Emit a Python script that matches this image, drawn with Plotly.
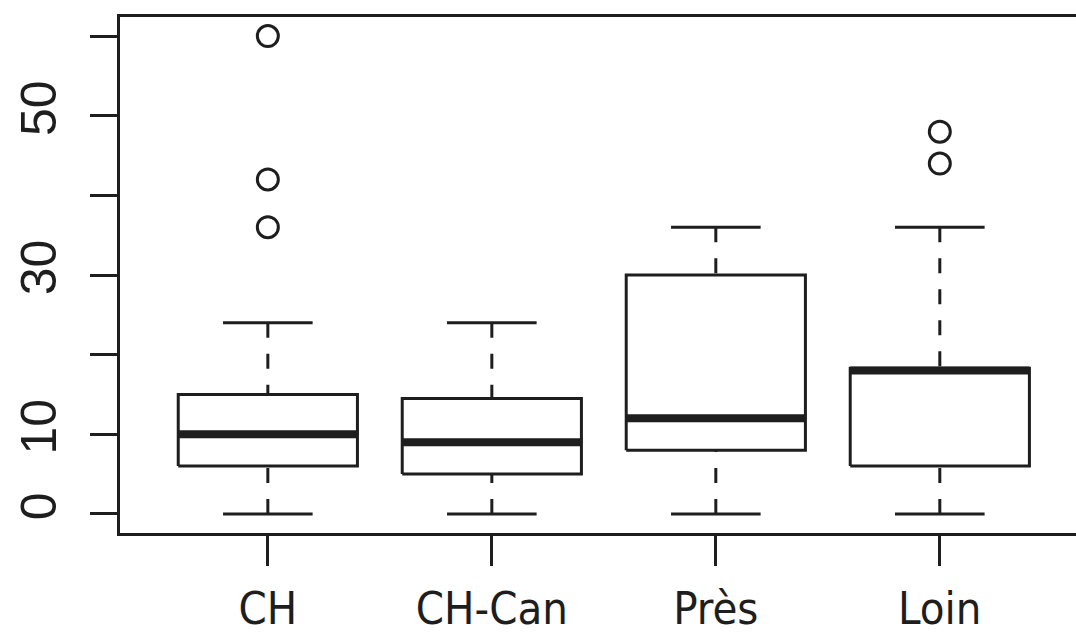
import plotly.graph_objects as go

categories = ["CH", "CH-Can", "Près", "Loin"]
lower_whisker = [0, 0, 0, 0]
q1 = [6, 5, 8, 6]
median = [10, 9, 12, 18]
q3 = [15, 14.5, 30, 18.3]
upper_whisker = [24, 24, 36, 36]
outlier_group = ["CH", "CH", "CH", "Loin", "Loin"]
outlier_values = [60, 42, 36, 48, 44]

y_tick_vals = [0, 10, 20, 30, 40, 50, 60]
y_tick_text = ["0", "10", "", "30", "", "50", ""]

INK = "#1e1e1e"
BOX_HALF = 0.4
CAP_HALF = 0.2

pos = {c: i + 1 for i, c in enumerate(categories)}

fig = go.Figure()

bx, by, mx, my, wx, wy, cx, cy = [], [], [], [], [], [], [], []
for c, lo, a, m, b, hi in zip(categories, lower_whisker, q1, median, q3, upper_whisker):
    x = pos[c]
    bx += [x - BOX_HALF, x + BOX_HALF, x + BOX_HALF, x - BOX_HALF, x - BOX_HALF, None]
    by += [a, a, b, b, a, None]
    mx += [x - BOX_HALF, x + BOX_HALF, None]
    my += [m, m, None]
    wx += [x, x, None, x, x, None]
    wy += [lo, a, None, hi, b, None]
    cx += [x - CAP_HALF, x + CAP_HALF, None, x - CAP_HALF, x + CAP_HALF, None]
    cy += [lo, lo, None, hi, hi, None]

fig.add_trace(go.Scatter(x=wx, y=wy, mode="lines",
                         line=dict(color=INK, width=3, dash="15px,16px"),
                         hoverinfo="skip", showlegend=False))
fig.add_trace(go.Scatter(x=cx, y=cy, mode="lines",
                         line=dict(color=INK, width=3),
                         hoverinfo="skip", showlegend=False))
fig.add_trace(go.Scatter(x=bx, y=by, mode="lines", fill="none",
                         line=dict(color=INK, width=3),
                         hoverinfo="skip", showlegend=False))
fig.add_trace(go.Scatter(x=mx, y=my, mode="lines",
                         line=dict(color=INK, width=8),
                         hoverinfo="skip", showlegend=False))
fig.add_trace(go.Scatter(x=[pos[g] for g in outlier_group], y=outlier_values,
                         mode="markers",
                         marker=dict(symbol="circle-open", size=21,
                                     line=dict(color=INK, width=3), color=INK),
                         showlegend=False))

fig.update_layout(
    width=1076, height=637,
    margin=dict(l=120, r=0, t=17, b=104),
    paper_bgcolor="white", plot_bgcolor="white",
    showlegend=False,
    xaxis=dict(
        range=[0.34, 4.608], automargin=False,
        tickmode="array", tickvals=[pos[c] for c in categories], ticktext=categories,
        ticks="outside", ticklen=30, tickwidth=3, tickcolor=INK,
        showline=True, linewidth=3, linecolor=INK, mirror=True,
        showgrid=False, zeroline=False,
        tickfont=dict(family="Liberation Sans Narrow, Arial Narrow, DejaVu Sans Condensed, sans-serif",
                      size=45, color=INK),
        ticklabelstandoff=4,
    ),
    yaxis=dict(
        range=[-2.4, 62.4], automargin=False,
        tickmode="array", tickvals=y_tick_vals, ticktext=y_tick_text,
        ticks="outside", ticklen=27, tickwidth=3, tickcolor=INK,
        showline=True, linewidth=3, linecolor=INK, mirror=False,
        showgrid=False, zeroline=False,
        tickangle=-90,
        tickfont=dict(family="Liberation Sans, Arial, sans-serif", size=50, color=INK),
        ticklabelstandoff=14,
    ),
)

fig.write_html("out.html")
